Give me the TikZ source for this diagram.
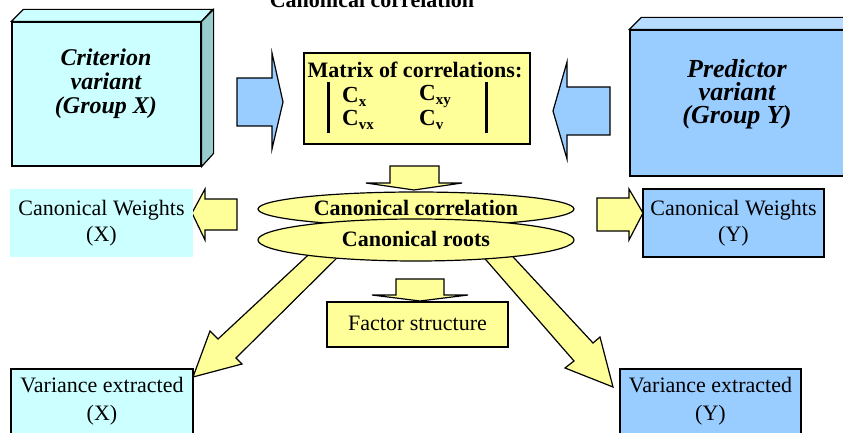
\documentclass[tikz,border=0pt]{standalone}
\usepackage{fontspec}
\setmainfont{LiberationSerif}[
  Extension=.ttf,
  UprightFont=*-Regular,
  BoldFont=*-Bold,
  ItalicFont=*-Italic,
  BoldItalicFont=*-BoldItalic]
\usetikzlibrary{shapes.geometric}
\definecolor{cyanbox}{HTML}{CCFFFF}
\definecolor{cyanside}{HTML}{99CCCC}
\definecolor{bluebox}{HTML}{99CCFF}
\definecolor{bluetop}{HTML}{B8DCFF}
\definecolor{yellowbox}{HTML}{FFFF99}
\tikzset{
  boxline/.style={draw=black, line width=1.2pt, line join=miter},
  plainbox/.style={inner sep=0pt, align=center, font=\fontsize{22}{26}\selectfont},
  blockarrow/.style={boxline, fill=yellowbox},
  roundbox/.style={boxline, fill=yellowbox, ellipse, inner sep=0pt,
    minimum width=316pt, font=\bfseries\fontsize{22}{26}\selectfont},
  entry/.style={anchor=west, inner sep=0pt, font=\bfseries\fontsize{23}{26}\selectfont},
}
\newcommand{\subs}[1]{\raisebox{-4pt}{\fontsize{15}{15}\selectfont #1}}

\begin{document}
\begin{tikzpicture}[x=1pt, y=-1pt]

    \useasboundingbox (0,0) rectangle (843,433);

    % Title (cut at the top)
    \node[anchor=base, font=\bfseries\fontsize{22}{26}\selectfont] (title) at (372,8) {Canonical correlation};

    % Group X block
    \node[boxline, fill=cyanbox, minimum width=189pt, minimum height=144pt] (crit) at (106.5,94) {};
    \draw[boxline, fill=cyanbox] (crit.north west) -- ++(12,-12) -- ++(189,0) -- (crit.north east) -- cycle;
    \draw[boxline, fill=cyanside] (crit.north east) -- ++(12,-12) -- ++(0,144) -- (crit.south east) -- cycle;
    \node[plainbox, font=\bfseries\itshape\fontsize{24}{24}\selectfont] (crittext) at (106,84) {Criterion\\variant\\(Group X)};

    % Group Y block
    \node[boxline, fill=bluebox, minimum width=220pt, minimum height=146pt] (pred) at (740,103) {};
    \draw[boxline, fill=bluetop] (pred.north west) -- ++(12,-12) -- ++(220,0) -- (pred.north east) -- cycle;
    \node[plainbox, font=\bfseries\itshape\fontsize{26}{23}\selectfont] (predtext) at (737,94) {Predictor\\variant\\(Group Y)};

    % Matrix of correlations
    \node[boxline, fill=yellowbox, minimum width=226pt, minimum height=91pt] (matrix) at (417,98.5) {};
    \node[plainbox, font=\bfseries\fontsize{22}{26}\selectfont] (mtitle) at (415,70) {Matrix of correlations:};
    \node[entry] (cx) at (342,97) {C\subs{x}};
    \node[entry] (cxy) at (419,97) {C\subs{xy}};
    \node[entry] (cvx) at (342,120) {C\subs{vx}};
    \node[entry] (cv) at (419,120) {C\subs{v}};
    \draw[line width=3pt] (328,82) -- (328,133);
    \draw[line width=3pt] (486,82) -- (486,133);

    % blue arrows into the matrix
    \draw[boxline, fill=bluebox] (237,78) -- (272,78) -- (272,53) -- (283,102) -- (272,149) -- (272,126) -- (237,126) -- cycle;
    \draw[boxline, fill=bluebox] (610,87) -- (567,87) -- (567,62) -- (553,111) -- (567,159) -- (567,135) -- (610,135) -- cycle;

    % yellow arrows
    \draw[blockarrow] (390,166) -- (439,166) -- (439,183) -- (462,183) -- (414,190) -- (366,183) -- (390,183) -- cycle;
    \draw[blockarrow] (396,279) -- (444,279) -- (444,295) -- (468,295) -- (420,301) -- (372,295) -- (396,295) -- cycle;
    \draw[blockarrow] (237,199) -- (205,199) -- (205,189) -- (192,213) -- (205,240) -- (205,230) -- (237,230) -- cycle;
    \draw[blockarrow] (597,198) -- (629,198) -- (629,189) -- (643,213) -- (629,240) -- (629,231) -- (597,231) -- cycle;
    \draw[blockarrow] (319,245) -- (218,339) -- (210,331) -- (193,377) -- (242,364) -- (236,358) -- (350,245) -- cycle;
    \draw[blockarrow] (473,245) -- (574,361) -- (565,368) -- (613,387) -- (600,337) -- (593,343) -- (502,245) -- cycle;

    % ellipses
    \node[roundbox, minimum height=34pt] (corr) at (416,209) {\raisebox{2pt}{Canonical correlation}};
    \node[roundbox, minimum height=42pt] (roots) at (416,240) {\raisebox{2pt}{Canonical roots}};

    % result boxes
    \node[plainbox, fill=cyanbox, minimum width=183pt, minimum height=68pt] (wx) at (101.5,223) {Canonical Weights\\(X)};
    \node[plainbox, boxline, fill=bluebox, minimum width=181pt, minimum height=68pt] (wy) at (733.5,223) {Canonical Weights\\(Y)};
    \node[plainbox, boxline, fill=yellowbox, minimum width=181pt, minimum height=45pt] (factor) at (417.5,324.5) {\raisebox{3pt}{Factor structure}};
    \node[boxline, fill=cyanbox, minimum width=182pt, minimum height=80pt] (varx) at (102,409) {};
    \node[plainbox, font=\fontsize{22}{28}\selectfont] (varxtext) at (102,401) {Variance extracted\\(X)};
    \node[boxline, fill=bluebox, minimum width=181pt, minimum height=80pt] (vary) at (710.5,409) {};
    \node[plainbox, font=\fontsize{22}{28}\selectfont] (varytext) at (710.5,401) {Variance extracted\\(Y)};

\end{tikzpicture}
\end{document}
